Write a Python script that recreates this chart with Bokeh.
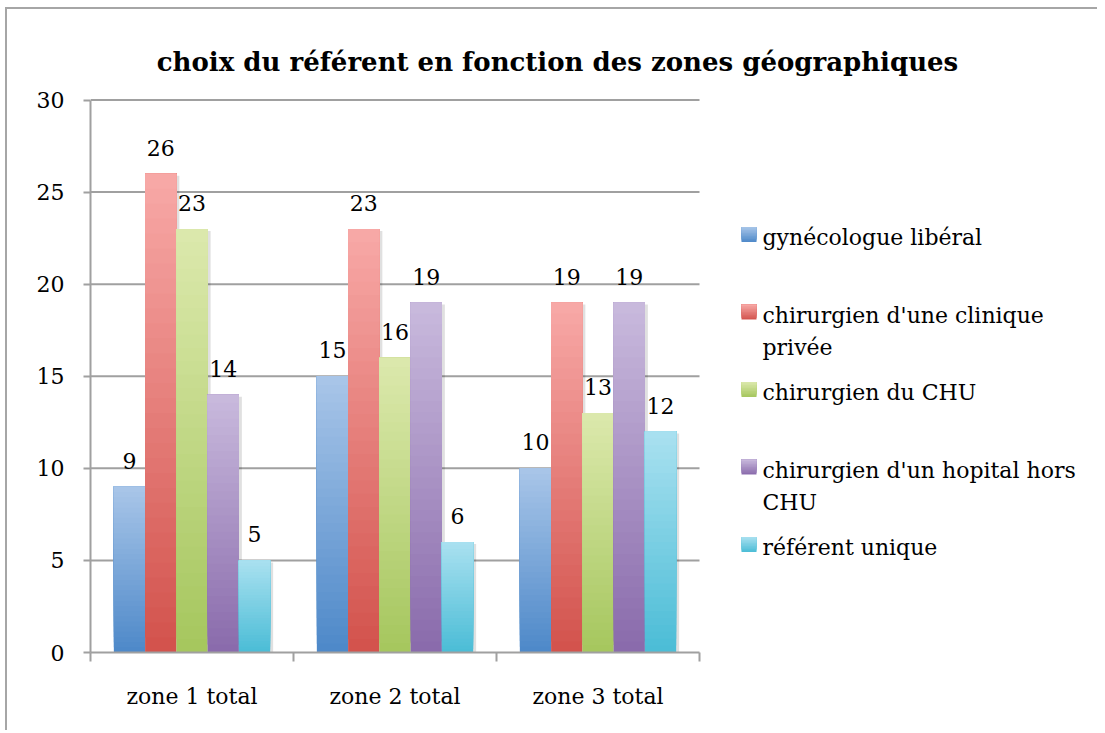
from bokeh.plotting import figure
from bokeh.models import ColumnDataSource, Range1d, FixedTicker
from bokeh.core.properties import value
from bokeh.embed import file_html
from bokeh.resources import INLINE

# ---------------- data ----------------
categories = ["zone 1 total", "zone 2 total", "zone 3 total"]
series_names = [
    "gynécologue libéral",
    "chirurgien d'une clinique\nprivée",
    "chirurgien du CHU",
    "chirurgien d'un hopital hors\nCHU",
    "référent unique",
]
gyn_liberal = [9, 15, 10]
chir_clinique = [26, 23, 19]
chir_chu = [23, 16, 13]
chir_hopital = [14, 19, 19]
referent_unique = [5, 6, 12]
series_values = [gyn_liberal, chir_clinique, chir_chu, chir_hopital, referent_unique]
color_top = ["#a9c6e9", "#f8a9a7", "#dce9ad", "#c9badd", "#aae1f0"]
color_bottom = ["#4d88c8", "#d2524c", "#a5c65d", "#896aab", "#4abcd6"]
y_ticks = [0, 5, 10, 15, 20, 25, 30]
title_text = "choix du référent en fonction des zones géographiques"

# ---------------- layout constants (page pixels) ----------------
MARGIN_X, MARGIN_Y, BORDER = 5, 7, 2
ORIGIN_X, ORIGIN_Y = MARGIN_X + BORDER, MARGIN_Y + BORDER   # page position of figure content
W, H = 1092, 723
AXIS_X = 90                        # page x of the y axis
CAT_PX = 203                       # pixels per category
Y0_PX, Y30_PX = 652, 99.5          # page y of value 0 and 30
YPX = (Y0_PX - Y30_PX) / 30.0
BAR_W = 0.154
FONT = "DejaVu Serif"
GRID = "#a0a0a0"

frame_left = AXIS_X - ORIGIN_X
frame_bottom = Y0_PX - ORIGIN_Y
x_max = (W - frame_left) / CAT_PX
y_max = (Y0_PX - ORIGIN_Y) / YPX


def X(px):
    return (px - AXIS_X) / CAT_PX


def Y(py):
    return (Y0_PX - py) / YPX


def hex2rgb(h):
    return tuple(int(h[i:i + 2], 16) for i in (1, 3, 5))


def mix(c0, c1, t):
    a, b = hex2rgb(c0), hex2rgb(c1)
    return "#%02x%02x%02x" % tuple(round(a[i] + (b[i] - a[i]) * t) for i in range(3))


p = figure(
    width=W, height=H, output_backend="svg", toolbar_location=None, title=None,
    x_range=Range1d(0, x_max), y_range=Range1d(0, y_max),
    min_border_left=frame_left, min_border_right=0, min_border_top=0,
    min_border_bottom=H - frame_bottom,
)
p.outline_line_color = None
p.background_fill_color = "white"
p.border_fill_color = "white"
p.xgrid.visible = False
p.ygrid.visible = False
p.styles = {
    "margin-left": f"{MARGIN_X}px", "margin-top": f"{MARGIN_Y}px",
    "border-top": f"{BORDER}px solid #a6a6a6", "border-left": f"{BORDER}px solid #a6a6a6",
}

# gridlines (behind bars)
p.segment(x0=[0] * (len(y_ticks) - 1), x1=[len(categories)] * (len(y_ticks) - 1),
          y0=y_ticks[1:], y1=y_ticks[1:], line_color=GRID, line_width=2)

sh = dict(left=[], right=[], top=[], bottom=[])
N = 32
bars = dict(left=[], right=[], top=[], bottom=[], color=[])
labels = dict(x=[], y=[], text=[])
n_series = len(series_values)
for s, vals in enumerate(series_values):
    for c, v in enumerate(vals):
        xc = c + 0.5 + (s - (n_series - 1) / 2) * BAR_W
        sh["left"].append(xc - BAR_W / 2 + 3 / CAT_PX)
        sh["right"].append(xc + BAR_W / 2 + 3 / CAT_PX)
        sh["top"].append(v - 2 / YPX)
        sh["bottom"].append(0)
        for k in range(N):
            t = (k + 0.5) / N
            bars["left"].append(xc - BAR_W / 2)
            bars["right"].append(xc + BAR_W / 2)
            bars["bottom"].append(v * k / N)
            bars["top"].append(v)
            bars["color"].append(mix(color_bottom[s], color_top[s], t))
        labels["x"].append(xc)
        labels["y"].append(v)
        labels["text"].append(str(v))

p.quad(source=ColumnDataSource(sh), left="left", right="right", top="top", bottom="bottom",
       fill_color="black", fill_alpha=0.12, line_color=None)
p.quad(source=ColumnDataSource(bars), left="left", right="right", top="top", bottom="bottom",
       fill_color="color", line_color=None)

p.text(source=ColumnDataSource(labels), x="x", y="y", text="text", y_offset=-26,
       text_align="center", text_baseline="middle", text_font=value(FONT),
       text_font_size="22px", text_color="black")

# legend (drawn manually)
LEG_X0, LEG_SQ = 741, 15
LEG_Y0, LEG_STEP, LINE_H = 234, 77.5, 32
leg_sq = dict(left=[], right=[], top=[], bottom=[], color=[])
leg_txt = dict(x=[], y=[], text=[])
for s, name in enumerate(series_names):
    cy = LEG_Y0 + s * LEG_STEP
    M = 10
    for k in range(M):
        t = (k + 0.5) / M
        leg_sq["left"].append(X(LEG_X0))
        leg_sq["right"].append(X(LEG_X0 + LEG_SQ))
        leg_sq["bottom"].append(Y(cy + LEG_SQ / 2 - LEG_SQ * k / M))
        leg_sq["top"].append(Y(cy - LEG_SQ / 2))
        leg_sq["color"].append(mix(color_bottom[s], color_top[s], t))
    for j, line in enumerate(name.split("\n")):
        leg_txt["x"].append(X(LEG_X0 + 21))
        leg_txt["y"].append(Y(cy + 3 + j * LINE_H))
        leg_txt["text"].append(line)

p.quad(source=ColumnDataSource(leg_sq), left="left", right="right", top="top", bottom="bottom",
       fill_color="color", line_color=None)
p.text(source=ColumnDataSource(leg_txt), x="x", y="y", text="text",
       text_align="left", text_baseline="middle", text_font=value(FONT),
       text_font_size="22px", text_color="black")

# title
p.text(x=[X(557)], y=[Y(61)], text=[title_text], text_align="center",
       text_baseline="alphabetic", text_font=value(FONT), text_font_style="bold",
       text_font_size="26px", text_color="black")

# axes
ya = p.yaxis[0]
ya.ticker = FixedTicker(ticks=y_ticks)
ya.bounds = (0, 30)
ya.axis_line_color = GRID
ya.axis_line_width = 2
ya.major_tick_line_color = GRID
ya.major_tick_line_width = 2
ya.major_tick_out = 7
ya.major_tick_in = 0
ya.minor_tick_line_color = None
ya.major_label_standoff = 19
ya.major_label_text_font = FONT
ya.major_label_text_font_size = "22px"
ya.major_label_text_color = "black"

xa = p.xaxis[0]
xa.ticker = FixedTicker(ticks=[i + 0.5 for i in range(len(categories))],
                        minor_ticks=list(range(len(categories) + 1)))
xa.bounds = (0, len(categories))
xa.axis_line_color = GRID
xa.axis_line_width = 2
xa.major_tick_line_color = None
xa.major_tick_out = 0
xa.major_tick_in = 0
xa.minor_tick_line_color = GRID
xa.minor_tick_line_width = 2
xa.minor_tick_out = 9
xa.minor_tick_in = 0
xa.major_label_overrides = {i + 0.5: cat for i, cat in enumerate(categories)}
xa.major_label_standoff = 22
xa.major_label_text_font = FONT
xa.major_label_text_font_size = "22px"
xa.major_label_text_color = "black"

open("out.html", "w").write(file_html(p, INLINE))
